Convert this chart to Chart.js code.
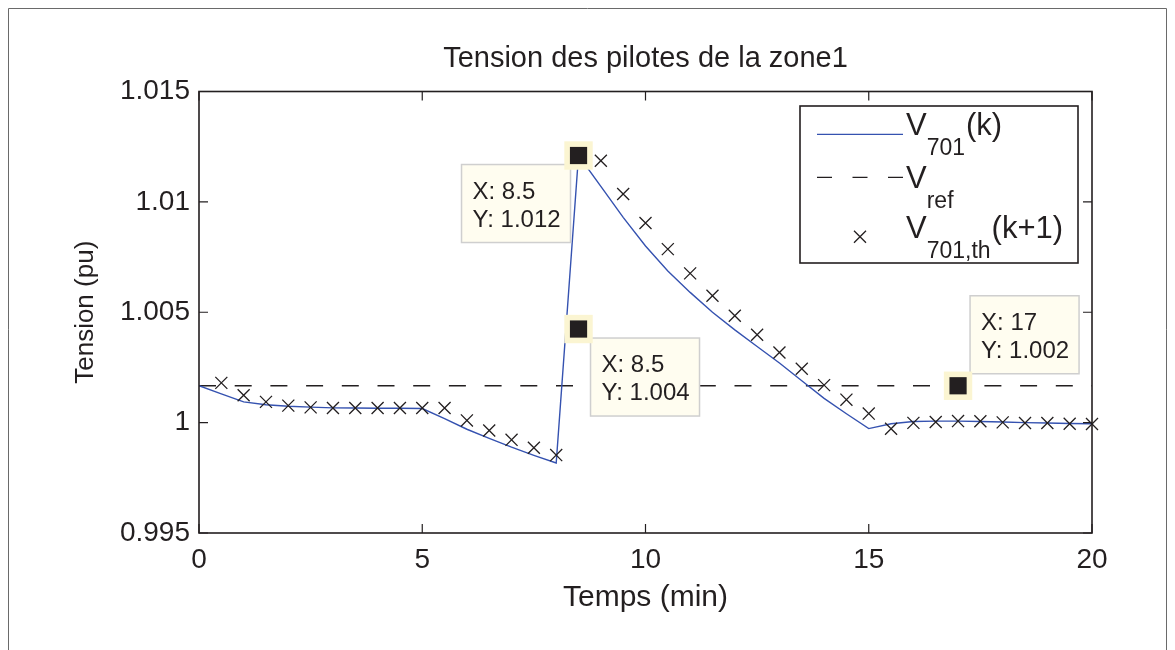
<!DOCTYPE html>
<html>
<head>
<meta charset="utf-8">
<script src="https://cdn.jsdelivr.net/npm/chart.js@4.4.0/dist/chart.umd.min.js"></script>
<style>
html,body{margin:0;padding:0;background:#fff;}
#wrap{width:1175px;height:650px;position:relative;}
canvas{display:block;}
</style>
</head>
<body>
<div id="wrap"><canvas id="c" width="1175" height="650"></canvas></div>
<script>
// ---------- data ----------
const timeLine = [0,0.5,1,1.5,2,2.5,3,3.5,4,4.5,5,5.5,6,6.5,7,7.5,8,8.5,9,9.5,10,10.5,11,11.5,12,12.5,13,13.5,14,14.5,15,15.5,16,16.5,17,17.5,18,18.5,19,19.5,20];
const v701 = [1.00167,1.0013,1.00094,1.00081,1.00074,1.0007,1.00067,1.00066,1.00065,1.00065,1.00064,1.00018,0.9997,0.99929,0.99889,0.99852,0.99817,1.0121,1.0107,1.0093,1.008,1.00687,1.0059,1.005,1.0042,1.00345,1.0027,1.0019,1.0011,1.0004,0.99973,0.99995,1.00005,1.00007,1.00007,1.00005,1.00003,1.0,0.99998,0.99996,0.99995];
const timeTh = [0.5,1,1.5,2,2.5,3,3.5,4,4.5,5,5.5,6,6.5,7,7.5,8,8.5,9,9.5,10,10.5,11,11.5,12,12.5,13,13.5,14,14.5,15,15.5,16,16.5,17,17.5,18,18.5,19,19.5,20];
const v701th = [1.0018,1.00124,1.00094,1.00077,1.00069,1.00066,1.00066,1.00066,1.00066,1.00066,1.00066,1.0001,0.99964,0.99922,0.99886,0.99853,1.00424,1.01186,1.01036,1.00904,1.00786,1.00676,1.00575,1.00484,1.00398,1.00318,1.00244,1.0017,1.00104,1.00041,0.99972,0.99999,1.00003,1.00007,1.00006,1.00001,0.99998,0.99998,0.99995,0.99994];
const vrefValue = 1.00167;
const xTicks = [0,5,10,15,20];
const yTicks = [0.995,1,1.005,1.01,1.015];
const tipX = [8.5, 8.5, 17];
const tipY = [1.0121, 1.00424, 1.00167];
const tipPlace = ['left-below','right-below','right-above'];

// ---------- style ----------
const FONT = "'Liberation Sans', Arial, Helvetica, sans-serif";
const INK = '#231f20';
const BLUE = '#3552b0';

const figurePlugin = {
  id: 'figure',
  beforeDraw(chart) {
    const ctx = chart.ctx;
    ctx.save();
    ctx.fillStyle = '#fff';
    ctx.fillRect(0, 0, chart.width, chart.height);
    ctx.strokeStyle = '#6a6a6a';
    ctx.lineWidth = 1;
    ctx.beginPath();
    ctx.moveTo(8.5, 650); ctx.lineTo(8.5, 8.5); ctx.lineTo(1166.5, 8.5); ctx.lineTo(1166.5, 650);
    ctx.stroke();
    ctx.restore();
  }
};

const boxPlugin = {
  id: 'axesBox',
  afterDatasetsDraw(chart) {
    const {ctx, chartArea: a, scales: {x, y}} = chart;
    ctx.save();
    ctx.strokeStyle = INK;
    ctx.lineWidth = 1.6;
    ctx.strokeRect(a.left, a.top, a.right - a.left, a.bottom - a.top);
    ctx.lineWidth = 1.2;
    ctx.beginPath();
    const L = 9;
    x.ticks.forEach(t => {
      const px = x.getPixelForValue(t.value);
      ctx.moveTo(px, a.bottom); ctx.lineTo(px, a.bottom - L);
      ctx.moveTo(px, a.top); ctx.lineTo(px, a.top + L);
    });
    y.ticks.forEach(t => {
      const py = y.getPixelForValue(t.value);
      ctx.moveTo(a.left, py); ctx.lineTo(a.left + L, py);
      ctx.moveTo(a.right, py); ctx.lineTo(a.right - L, py);
    });
    ctx.stroke();
    ctx.restore();
  }
};

const tipPlugin = {
  id: 'datatips',
  afterDatasetsDraw(chart) {
    const {ctx, scales: {x, y}} = chart;
    ctx.save();
    tipX.forEach((tx, i) => {
      const ty = tipY[i];
      const px = x.getPixelForValue(tx), py = y.getPixelForValue(ty);
      const w = 109, h = 78;
      let bx, by;
      if (tipPlace[i] === 'left-below') { bx = px - 117; by = py + 9; }
      else if (tipPlace[i] === 'right-below') { bx = px + 12; by = py + 9; }
      else { bx = px + 12; by = py - 90; }
      ctx.fillStyle = '#fffdf0';
      ctx.fillRect(bx, by, w, h);
      ctx.strokeStyle = '#cfcfcf';
      ctx.lineWidth = 1.5;
      ctx.strokeRect(bx, by, w, h);
      ctx.fillStyle = INK;
      ctx.font = '24px ' + FONT;
      ctx.textAlign = 'left';
      ctx.textBaseline = 'alphabetic';
      ctx.fillText('X: ' + tx, bx + 11, by + 34);
      ctx.fillText('Y: ' + ty.toFixed(3), bx + 11, by + 62);
      ctx.fillStyle = '#fbf5d2';
      ctx.fillRect(px - 14.2, py - 14.2, 28.4, 28.4);
      ctx.fillStyle = INK;
      ctx.fillRect(px - 8.6, py - 8.6, 17.2, 17.2);
    });
    ctx.restore();
  }
};

const legendPlugin = {
  id: 'matlabLegend',
  afterDraw(chart) {
    const {ctx, chartArea: a} = chart;
    const bw = 278, bh = 157;
    const bx = a.right - 14 - bw, by = a.top + 14.5;
    ctx.save();
    ctx.fillStyle = '#fff';
    ctx.fillRect(bx, by, bw, bh);
    ctx.strokeStyle = INK;
    ctx.lineWidth = 1.6;
    ctx.strokeRect(bx, by, bw, bh);
    // row 1: solid line
    ctx.strokeStyle = BLUE; ctx.lineWidth = 1.3;
    ctx.beginPath(); ctx.moveTo(bx + 17, by + 28.3); ctx.lineTo(bx + 103, by + 28.3); ctx.stroke();
    // row 2: dashed
    ctx.strokeStyle = INK; ctx.setLineDash([15, 20.5]);
    ctx.beginPath(); ctx.moveTo(bx + 17, by + 71.3); ctx.lineTo(bx + 103, by + 71.3); ctx.stroke();
    ctx.setLineDash([]);
    // row 3: cross
    const cx = bx + 60, cy = by + 130.7, r = 6;
    ctx.lineWidth = 1.3;
    ctx.beginPath();
    ctx.moveTo(cx - r, cy - r); ctx.lineTo(cx + r, cy + r);
    ctx.moveTo(cx - r, cy + r); ctx.lineTo(cx + r, cy - r);
    ctx.stroke();
    // texts
    ctx.fillStyle = INK;
    ctx.textAlign = 'left';
    ctx.textBaseline = 'alphabetic';
    const big = '31px ' + FONT, small = '23px ' + FONT;
    function run(parts, x0, base) {
      let xx = x0;
      parts.forEach(p => {
        ctx.font = p.sub ? small : big;
        ctx.fillText(p.t, xx + (p.dx || 0), base + (p.sub ? 20 : 0));
        xx += ctx.measureText(p.t).width + (p.dx || 0);
      });
    }
    run([{t: 'V'}, {t: '701', sub: true, dx: 0}, {t: '(k)', dx: 1}], bx + 106, by + 29);
    run([{t: 'V'}, {t: 'ref', sub: true, dx: 0}], bx + 106, by + 82);
    run([{t: 'V'}, {t: '701,th', sub: true, dx: 0}, {t: '(k+1)', dx: 1}], bx + 106, by + 132.3);
    ctx.restore();
  }
};

const tickFont = {family: FONT, size: 28, weight: 'normal'};

new Chart(document.getElementById('c'), {
  type: 'line',
  data: {
    datasets: [
      {
        label: 'V701,th(k+1)',
        data: timeTh.map((t, i) => ({x: t, y: v701th[i]})),
        showLine: false,
        pointStyle: 'crossRot',
        pointRadius: 8.5,
        pointBorderWidth: 1.3,
        pointBorderColor: INK,
        pointBackgroundColor: INK,
        clip: false,
        order: 0
      },
      {
        label: 'V701(k)',
        data: timeLine.map((t, i) => ({x: t, y: v701[i]})),
        borderColor: BLUE,
        borderWidth: 1.4,
        pointRadius: 0,
        tension: 0,
        order: 1
      },
      {
        label: 'Vref',
        data: [{x: xTicks[0], y: vrefValue}, {x: xTicks[xTicks.length - 1], y: vrefValue}],
        borderColor: INK,
        borderWidth: 1.3,
        borderDash: [17, 18.7],
        pointRadius: 0,
        order: 2
      }
    ]
  },
  options: {
    responsive: false,
    animation: false,
    devicePixelRatio: 1,
    layout: {padding: {left: 0, right: 83, top: 0, bottom: 0}},
    plugins: {
      legend: {display: false},
      tooltip: {enabled: false},
      title: {
        display: true,
        fullSize: false,
        text: 'Tension des pilotes de la zone1',
        color: INK,
        font: {family: FONT, size: 29, weight: 'normal'},
        padding: {top: 42, bottom: 14.7}
      }
    },
    scales: {
      x: {
        type: 'linear',
        min: xTicks[0], max: xTicks[xTicks.length - 1],
        afterBuildTicks: s => { s.ticks = xTicks.map(v => ({value: v})); },
        afterFit: s => { s.height = 117; },
        grid: {display: false, drawTicks: false},
        border: {display: false},
        ticks: {padding: 10, color: INK, font: tickFont, maxRotation: 0, autoSkip: false, callback: v => String(v)},
        title: {display: true, text: 'Temps (min)', color: INK, font: {family: FONT, size: 30, weight: 'normal'}, padding: {top: 0, bottom: 34}}
      },
      y: {
        type: 'linear',
        min: yTicks[0], max: yTicks[yTicks.length - 1],
        afterBuildTicks: s => { s.ticks = yTicks.map(v => ({value: v})); },
        afterFit: s => { s.width = 199; },
        grid: {display: false, drawTicks: false},
        border: {display: false},
        ticks: {padding: 9, color: INK, font: tickFont, autoSkip: false, callback: v => String(parseFloat(Number(v).toFixed(3)))},
        title: {display: true, text: 'Tension (pu)', color: INK, font: {family: FONT, size: 26, weight: 'normal'}, padding: {top: 70, bottom: 0}}
      }
    }
  },
  plugins: [figurePlugin, boxPlugin, tipPlugin, legendPlugin]
});
</script>
</body>
</html>
